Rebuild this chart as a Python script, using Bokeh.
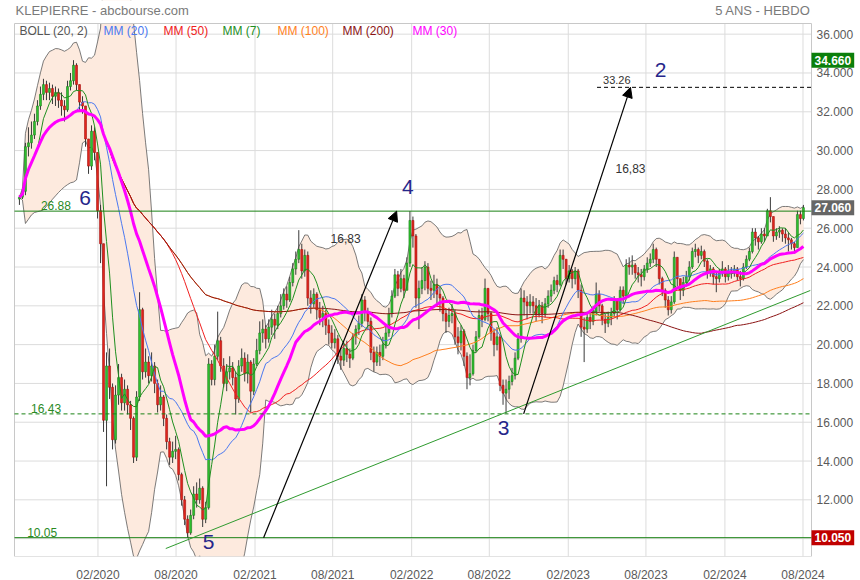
import numpy as np
import pandas as pd
from bokeh.plotting import figure
from bokeh.models import (Range1d, FixedTicker, DatetimeTickFormatter, Label, Arrow, NormalHead)
from bokeh.core.properties import value
from bokeh.embed import file_html
from bokeh.resources import INLINE

FONT = "Liberation Sans"

# ---------------- data (weekly candles) ----------------
first_week = "2019-08-02"
closes = [
    27.6, 27.9, 30.2, 30.4, 30.8, 31.5, 32.3, 32.9, 33.4, 33.0,
    33.2, 32.8, 33.0, 32.6, 32.3, 32.1, 33.3, 33.6, 34.4, 33.4,
    32.5, 32.3, 30.6, 29.2, 31.0, 29.9, 26.9, 25.2, 16.1, 18.9,
    17.8, 15.1, 17.4, 18.3, 17.0, 17.7, 16.9, 16.2, 14.2, 17.3,
    21.8, 18.6, 19.1, 18.4, 18.9, 18.0, 16.9, 17.3, 16.2, 15.0,
    14.2, 14.5, 14.6, 13.3, 12.0, 11.0, 10.3, 11.2, 12.3, 12.0,
    12.6, 11.0, 11.6, 19.0, 18.2, 19.4, 20.2, 18.9, 18.0, 18.6,
    18.8, 18.3, 17.2, 18.9, 19.3, 18.5, 19.1, 17.6, 19.0, 19.7,
    20.6, 20.8, 20.3, 20.9, 21.3, 21.0, 21.6, 22.0, 22.6, 22.3,
    23.2, 23.9, 24.4, 24.9, 23.8, 24.6, 22.4, 22.1, 22.6, 21.8,
    21.4, 21.6, 21.0, 20.6, 20.1, 20.3, 19.4, 19.2, 19.8, 19.5,
    19.3, 20.4, 20.8, 21.1, 22.3, 21.7, 21.2, 19.6, 19.1, 19.6,
    19.4, 20.0, 20.6, 21.6, 22.5, 23.6, 22.9, 23.4, 22.8, 24.2,
    26.4, 25.6, 22.4, 22.9, 23.3, 24.0, 22.9, 22.8, 23.1, 22.6,
    22.4, 21.6, 21.2, 21.5, 21.6, 20.4, 20.1, 20.7, 19.4, 18.3,
    18.5, 19.7, 20.4, 21.5, 21.3, 22.9, 21.6, 20.6, 20.0, 20.4,
    17.9, 17.5, 17.7, 18.1, 18.4, 19.3, 20.3, 22.4, 22.2, 22.0,
    22.2, 22.0, 21.6, 22.0, 21.6, 22.1, 22.5, 22.8, 23.3, 23.1,
    24.6, 24.4, 23.4, 23.8, 23.4, 23.8, 22.8, 20.9, 20.8, 21.4,
    21.2, 21.7, 22.6, 22.0, 21.3, 21.1, 21.4, 21.6, 22.3, 21.8,
    22.8, 22.5, 24.1, 24.0, 24.1, 23.7, 23.6, 23.5, 23.9, 24.2,
    24.4, 24.9, 24.4, 23.4, 22.8, 22.3, 21.8, 22.2, 24.5, 23.4,
    22.8, 23.2, 23.5, 24.0, 24.8, 24.9, 24.6, 24.8, 24.3, 23.7,
    23.9, 23.5, 23.4, 23.7, 23.9, 23.5, 23.8, 23.7, 23.9, 23.5,
    23.4, 24.0, 24.4, 24.8, 25.8, 25.5, 25.3, 25.7, 25.6, 26.9,
    26.6, 25.6, 25.8, 25.9, 25.7, 25.5, 25.4, 25.2, 25.0, 26.7,
    26.5, 27.06,
]
highs = [
    27.7, 28.1, 30.4, 31.2, 31.5, 31.9, 32.6, 33.3, 33.7, 33.6,
    33.5, 33.4, 33.3, 33.2, 33.0, 32.6, 33.6, 34.0, 34.66, 34.5,
    33.4, 32.8, 32.3, 30.6, 31.3, 31.2, 29.9, 27.2, 25.2, 19.6,
    19.8, 18.0, 17.9, 19.0, 18.5, 18.2, 17.9, 17.1, 16.3, 17.6,
    22.7, 21.9, 19.8, 19.4, 19.6, 19.1, 18.2, 17.9, 17.4, 16.4,
    15.2, 15.0, 15.3, 14.7, 13.4, 12.2, 11.2, 11.5, 12.7, 12.9,
    13.1, 12.7, 11.9, 19.3, 19.2, 20.0, 21.7, 20.4, 19.3, 19.0,
    19.4, 19.1, 18.6, 19.2, 19.8, 19.6, 19.5, 19.2, 19.3, 20.3,
    21.2, 21.3, 21.0, 21.3, 21.8, 21.6, 22.0, 22.6, 22.9, 23.0,
    23.5, 24.2, 24.8, 25.9, 25.2, 24.9, 24.8, 22.8, 22.9, 22.7,
    22.2, 22.0, 21.8, 21.3, 21.0, 20.8, 20.5, 19.8, 20.1, 20.2,
    19.8, 20.6, 21.0, 21.5, 22.6, 22.5, 21.9, 21.4, 19.9, 19.9,
    20.0, 20.4, 21.0, 21.9, 22.8, 23.9, 23.8, 23.9, 23.6, 24.5,
    26.88, 26.6, 25.7, 23.3, 24.0, 24.3, 24.2, 23.3, 23.6, 23.4,
    23.0, 22.5, 21.8, 21.9, 22.1, 21.8, 20.9, 21.0, 20.8, 19.6,
    19.5, 20.0, 20.7, 21.8, 21.9, 23.4, 22.9, 21.7, 20.8, 20.9,
    20.5, 18.2, 18.2, 18.4, 18.8, 19.6, 20.6, 22.9, 22.8, 22.5,
    22.6, 22.5, 22.4, 22.3, 22.2, 22.4, 22.8, 23.1, 23.5, 23.6,
    24.9, 24.9, 24.4, 24.1, 23.9, 24.0, 23.9, 23.1, 21.4, 21.7,
    21.7, 22.0, 23.2, 22.8, 22.1, 21.6, 21.7, 21.9, 22.5, 22.4,
    23.0, 23.0, 24.4, 24.5, 24.6, 24.2, 24.0, 23.9, 24.1, 24.5,
    24.7, 25.2, 25.0, 24.4, 23.5, 22.9, 22.5, 22.5, 24.8, 24.5,
    23.4, 23.5, 23.8, 24.3, 25.0, 25.2, 25.0, 25.1, 24.9, 24.4,
    24.1, 24.0, 23.8, 23.9, 24.3, 24.0, 24.1, 24.0, 24.1, 24.0,
    23.8, 24.2, 24.6, 25.0, 26.0, 26.0, 25.6, 26.0, 26.0, 27.0,
    27.6, 26.6, 26.0, 26.1, 26.0, 26.0, 25.8, 25.5, 25.3, 26.9,
    26.9, 27.2,
]
lows = [
    27.2, 27.5, 27.7, 29.7, 30.1, 30.6, 31.3, 32.1, 32.6, 32.6,
    32.6, 32.4, 32.3, 32.2, 31.8, 31.5, 32.0, 33.1, 33.4, 33.1,
    32.0, 31.9, 30.2, 28.8, 29.0, 29.5, 26.5, 24.2, 15.5, 12.7,
    17.2, 14.6, 14.9, 16.9, 16.6, 16.6, 16.4, 15.6, 13.9, 14.0,
    17.1, 18.2, 18.3, 18.0, 18.1, 17.5, 16.5, 16.6, 15.8, 14.6,
    13.8, 13.9, 14.1, 13.0, 11.7, 10.7, 10.05, 10.2, 11.0, 11.6,
    11.8, 10.6, 10.8, 11.5, 17.9, 17.9, 19.2, 18.6, 17.8, 17.6,
    18.2, 17.9, 16.4, 17.0, 18.6, 18.1, 18.0, 16.5, 17.4, 18.9,
    19.5, 20.1, 19.8, 20.1, 20.5, 20.3, 20.8, 21.4, 21.8, 21.9,
    22.2, 23.0, 23.6, 24.2, 23.4, 23.5, 22.0, 21.6, 21.9, 21.3,
    21.0, 20.9, 20.5, 20.0, 19.8, 19.8, 19.0, 18.7, 18.9, 19.1,
    18.8, 19.2, 20.0, 20.5, 20.9, 21.2, 20.8, 19.2, 18.6, 18.9,
    18.9, 19.2, 19.8, 20.4, 21.4, 22.4, 22.5, 22.7, 22.4, 22.8,
    24.0, 25.0, 21.9, 20.8, 22.6, 22.8, 22.6, 22.3, 22.4, 22.0,
    21.7, 21.2, 20.6, 20.9, 21.1, 20.0, 19.5, 19.7, 18.9, 17.7,
    17.9, 18.4, 19.6, 20.3, 20.9, 21.2, 21.2, 20.2, 19.4, 19.7,
    17.6, 16.9, 16.45, 17.2, 17.9, 18.2, 19.2, 20.1, 21.5, 21.3,
    21.6, 21.6, 21.2, 21.4, 21.1, 21.4, 21.9, 22.2, 22.6, 22.7,
    23.0, 23.9, 23.1, 23.2, 22.9, 23.1, 22.4, 20.4, 19.1, 20.6,
    20.8, 21.0, 21.5, 21.7, 21.0, 20.6, 20.9, 21.0, 21.4, 21.3,
    21.7, 22.1, 22.4, 23.6, 23.6, 23.4, 23.2, 23.0, 23.3, 23.7,
    24.0, 24.2, 24.0, 23.1, 22.5, 21.9, 21.5, 21.6, 22.1, 23.0,
    22.3, 22.5, 23.0, 23.3, 23.9, 24.5, 24.2, 24.4, 24.0, 23.4,
    23.5, 23.1, 22.7, 23.2, 23.5, 23.2, 23.3, 23.4, 23.5, 23.3,
    23.0, 23.3, 23.9, 24.3, 24.7, 25.1, 24.9, 25.2, 25.3, 25.6,
    26.3, 25.3, 25.4, 25.5, 25.3, 25.2, 24.8, 24.9, 24.7, 25.0,
    26.2, 26.4,
]
first_open = 27.5

tick_dates = ["2020-02-01", "2020-08-01", "2021-02-01", "2021-08-01", "2022-02-01",
              "2022-08-01", "2023-02-01", "2023-08-01", "2024-02-01", "2024-08-01"]
price_ticks = [10, 12, 14, 16, 18, 20, 22, 24, 26, 28, 30, 32, 34, 36]

# horizontal levels
level_values = [26.88, 16.43, 10.05]
target_value = 33.26
target_start = "2023-04-09"
# trend line (support)
trend_dates = ["2020-07-08", "2024-08-18"]
trend_values = [9.49, 22.79]
# arrows (amplitude projections)
arrow_start_dates = ["2021-02-21", "2022-10-20"]
arrow_start_values = [10.05, 16.43]
arrow_end_dates = ["2021-12-28", "2023-06-26"]
arrow_end_values = [26.88, 33.26]
arrow_texts = ["16,83", "16,83"]
arrow_text_dates = ["2021-08-31", "2023-06-26"]
arrow_text_values = [25.47, 29.08]
# wave numbers
wave_labels = ["2", "3", "4", "5", "6"]
wave_dates = ["2023-09-04", "2022-09-03", "2022-01-23", "2020-10-16", "2020-01-02"]
wave_values = [34.13, 15.68, 28.10, 9.85, 27.58]

# ---------------- derived series ----------------
dates = pd.date_range(first_week, periods=len(closes), freq="7D")
c = pd.Series(closes, dtype=float)
o = c.shift(1).fillna(first_open)
h = pd.Series(highs, dtype=float)
l = pd.Series(lows, dtype=float)

def ms(d):
    return pd.Timestamp(d).value / 1e6

mid = c.rolling(20, min_periods=1).mean()
sd = c.rolling(20, min_periods=1).std(ddof=0).fillna(0)
upper = mid + 2 * sd
lower = mid - 2 * sd

ma_colors = {7: "#1f8f1f", 20: "#4a78f0", 30: "#ff00ff", 50: "#f02020", 100: "#ff7f1e", 200: "#8b1414"}

# ---------------- geometry: chart area inside a wider frame ----------------
x_start = ms("2019-07-21 12:00")
x_end = ms("2024-08-20 20:00")
y_lo, y_hi = 9.08, 36.55
FRAME_W, FRAME_H = 856, 556
AREA_L, AREA_W, AREA_T = 14, 797, 23          # chart area inside the frame (px)
px_per_ms = AREA_W / (x_end - x_start)
px_per_unit = (FRAME_H - AREA_T) / (y_hi - y_lo)
fx0 = x_start - AREA_L / px_per_ms
fx1 = x_start + (FRAME_W - AREA_L) / px_per_ms
fy1 = y_hi + AREA_T / px_per_unit

p = figure(frame_width=FRAME_W, frame_height=FRAME_H, x_axis_type="datetime", y_axis_location=None,
           x_range=Range1d(fx0, fx1), y_range=Range1d(y_lo, fy1),
           toolbar_location=None, output_backend="svg",
           min_border_left=0, min_border_top=0, min_border_bottom=18, min_border_right=2,
           background_fill_color="white", border_fill_color="white")
p.outline_line_color = None
p.xgrid.visible = False
p.ygrid.visible = False

p.xaxis.ticker = FixedTicker(ticks=[ms(d) for d in tick_dates])
fmt = "%m/%Y"
p.xaxis.formatter = DatetimeTickFormatter(days=fmt, months=fmt, years=fmt, hours=fmt,
                                          minutes=fmt, seconds=fmt, milliseconds=fmt)
p.xaxis.axis_line_color = None
p.xaxis.major_tick_line_color = None
p.xaxis.minor_tick_line_color = None
p.xaxis.major_label_text_font = FONT
p.xaxis.major_label_text_font_size = "12px"
p.xaxis.major_label_text_color = "#5a5a5a"
p.xaxis.major_label_standoff = 5

GRID = "#dcdcdc"
# grid lines limited to the chart area
tick_ms = [ms(d) for d in tick_dates]
p.segment(x0=tick_ms, y0=[y_lo] * len(tick_ms), x1=tick_ms, y1=[y_hi] * len(tick_ms),
          line_color=GRID, line_width=1)
p.segment(x0=[x_start] * len(price_ticks), y0=price_ticks, x1=[x_end] * len(price_ticks), y1=price_ticks,
          line_color=GRID, line_width=1)

# Bollinger band
p.varea(x=dates, y1=lower, y2=upper, fill_color="#fdeade")
p.line(dates, upper, line_color="#5a5a5a", line_width=0.8)
p.line(dates, lower, line_color="#5a5a5a", line_width=0.8)

# candles
bar_w = 4.6 * 24 * 3600 * 1000
p.segment(x0=dates, y0=l, x1=dates, y1=h, line_color="#3a3a3a", line_width=1)
up = (c >= o).values
dn = ~up
p.vbar(x=dates[up], width=bar_w, top=c[up], bottom=o[up], fill_color="#2fc42f", line_color="#1c7d1c", line_width=0.6)
p.vbar(x=dates[dn], width=bar_w, top=o[dn], bottom=c[dn], fill_color="#e3261c", line_color="#a51010", line_width=0.6)

# moving averages
for n, w in [(100, 1), (50, 1), (200, 1), (20, 1), (7, 1), (30, 3)]:
    p.line(dates, c.rolling(n, min_periods=1).mean(), line_color=ma_colors[n], line_width=w)

# mask whatever rises above the chart area (title strip)
p.quad(left=[fx0], right=[fx1], bottom=[y_hi], top=[fy1 + 1], fill_color="white", line_color=None)

# chart area border
p.quad(left=[x_start], right=[x_end], bottom=[y_lo], top=[y_hi], fill_color=None,
       line_color="#c8c8c8", line_width=1)

# right price scale
p.text(x=[x_end] * len(price_ticks), y=price_ticks, text=[f"{t:.3f}" for t in price_ticks],
       x_offset=5, text_font=value(FONT), text_font_size="12px", text_color="#5a5a5a",
       text_align="left", text_baseline="middle")

# horizontal levels
level_styles = ["solid", "4 3", "solid"]
for v, dash in zip(level_values, level_styles):
    p.segment(x0=[x_start], y0=[v], x1=[x_end], y1=[v], line_color="#1a8214", line_width=1, line_dash=dash)
level_label_dates = ["2019-09-21", "2019-08-29", "2019-08-20"]
for v, d in zip(level_values, level_label_dates):
    p.add_layout(Label(x=ms(d), y=v, y_offset=1, text=f"{v:.2f}", text_font=FONT, text_font_size="12px",
                       text_color="#2a8a1f", text_baseline="bottom"))

# target line
p.segment(x0=[ms(target_start)], y0=[target_value], x1=[x_end], y1=[target_value],
          line_color="black", line_dash="4 3", line_width=1)
p.add_layout(Label(x=ms("2023-04-23"), y=target_value, y_offset=3, text=f"{target_value:.2f}",
                   text_font=FONT, text_font_size="11px", text_color="#333333", text_baseline="bottom"))

# trend line
p.line([ms(d) for d in trend_dates], trend_values, line_color="#2e9a2e", line_width=1)

# arrows
for xs, ys, xe, ye in zip(arrow_start_dates, arrow_start_values, arrow_end_dates, arrow_end_values):
    p.add_layout(Arrow(end=NormalHead(size=10, fill_color="black", line_color="black"),
                       x_start=ms(xs), y_start=ys, x_end=ms(xe), y_end=ye,
                       line_color="black", line_width=1.2))
p.text(x=[ms(d) for d in arrow_text_dates], y=arrow_text_values, text=arrow_texts,
       text_font=value(FONT), text_font_size="12px", text_color="#333333",
       text_align="center", text_baseline="middle")

# wave numbers
p.text(x=[ms(d) for d in wave_dates], y=wave_values, text=wave_labels,
       text_font=value(FONT), text_font_size="21px", text_color="#26268a",
       text_align="center", text_baseline="middle")

# legend row
legend_items = ["BOLL (20, 2)", "MM (20)", "MM (50)", "MM (7)", "MM (100)", "MM (200)", "MM (30)"]
legend_colors = ["#555555", ma_colors[20], ma_colors[50], ma_colors[7], ma_colors[100], ma_colors[200], ma_colors[30]]
legend_px = [5, 89, 149, 208, 263, 328, 398]
for t, col, px in zip(legend_items, legend_colors, legend_px):
    p.add_layout(Label(x=x_start, y=y_hi, x_offset=px, y_offset=-7, text=t, text_font=FONT,
                       text_font_size="12px", text_color=col, text_baseline="middle"))

# titles
p.add_layout(Label(x=x_start, y=y_hi, x_offset=1, y_offset=13, text="KLEPIERRE - abcbourse.com",
                   text_font=FONT, text_font_size="13px", text_color="#7a7a7a", text_baseline="middle"))
p.add_layout(Label(x=x_end, y=y_hi, x_offset=-1, y_offset=13, text="5 ANS - HEBDO",
                   text_font=FONT, text_font_size="13px", text_color="#7a7a7a", text_baseline="middle",
                   text_align="right"))

# price boxes on the right scale
boxes = [(max(highs), "#0b7f0b"), (closes[-1], "#666666"), (min(lows), "#c00000")]
for v, bg in boxes:
    p.add_layout(Label(x=x_end, y=v, x_offset=0, text=f"{v:.3f}", text_font=FONT, text_font_size="12px",
                       text_font_style="bold", text_color="white", background_fill_color=bg,
                       text_baseline="middle", text_align="left", padding=3))

open("out.html", "w").write(file_html(p, INLINE))
